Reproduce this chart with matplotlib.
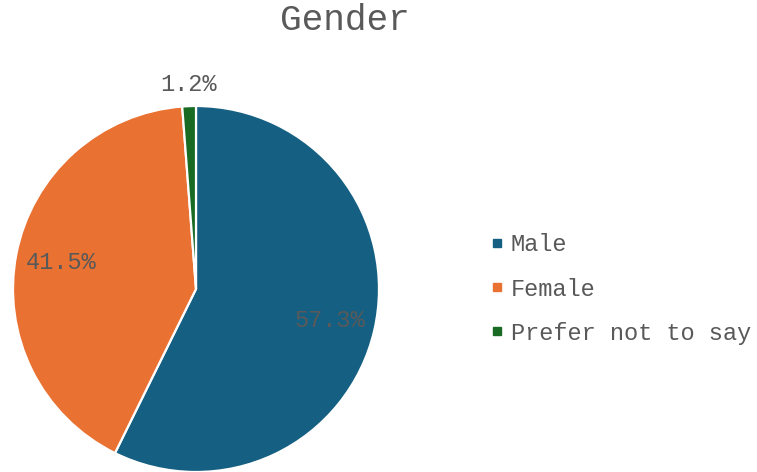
import numpy as np
import matplotlib.pyplot as plt
from matplotlib.lines import Line2D

categories = ["Male", "Female", "Prefer not to say"]
values = [57.3, 41.5, 1.2]
colors = ["#156082", "#E97132", "#196B24"]

plt.rcParams['font.family'] = ['Liberation Mono', 'DejaVu Sans Mono']
text_color = "#595959"

fig = plt.figure(figsize=(7.57, 4.72), dpi=100)
ax = fig.add_axes([13 / 757, 0, 366 / 757, 366 / 472])

wedges, _ = ax.pie(values, colors=colors, startangle=90, counterclock=False,
                   radius=1, wedgeprops=dict(edgecolor="white", linewidth=1.6))
ax.set_xlim(-1, 1)
ax.set_ylim(-1, 1)
ax.axis("off")

# etiquetas de percentagem
for w, v in zip(wedges, values):
    ang = np.deg2rad((w.theta1 + w.theta2) / 2)
    d = 0.75 if v > 5 else 1.12
    ax.text(d * np.cos(ang), d * np.sin(ang), f"{v:.1f}%", ha="center", va="center",
            fontsize=17, color=text_color, clip_on=False)

fig.text(345 / 757, 1 - 21 / 472, "Gender", ha="center", va="center", fontsize=26, color=text_color)

handles = [Line2D([], [], marker="s", linestyle="none", markersize=6, color=c) for c in colors]
leg = fig.legend(handles, categories, loc="center left", bbox_to_anchor=(480 / 757, 1 - 289 / 472),
                 frameon=False, fontsize=17, handlelength=0.6, handletextpad=0.3, labelspacing=0.9,
                 borderaxespad=0)
for t in leg.get_texts():
    t.set_color(text_color)

fig.savefig("out.png", dpi=100)
